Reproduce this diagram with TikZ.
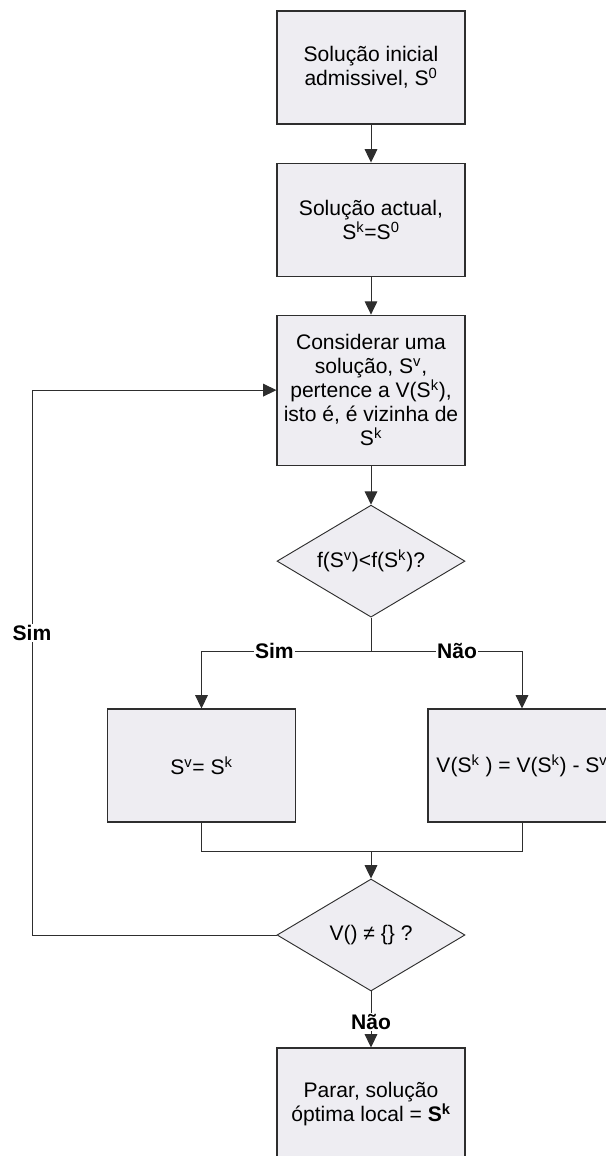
\documentclass[tikz,border=0pt]{standalone}
\usepackage{fontspec}
\setmainfont{Liberation Sans}
\usepackage{tikz}
\usetikzlibrary{arrows.meta,positioning,shapes.geometric}
\definecolor{boxfill}{HTML}{EEEDF2}
\definecolor{edge}{HTML}{2E2E2E}

\begin{document}
\begin{tikzpicture}[x=0.75pt,y=-0.75pt,
  font=\fontsize{15.8}{18}\selectfont,
  procbox/.style={draw=edge,fill=boxfill,line width=0.8pt,
    minimum width=141pt,minimum height=84.75pt,align=center,inner sep=2pt},
  decision/.style={diamond,draw=edge,fill=boxfill,line width=0.7pt,
    minimum width=141pt,minimum height=84pt,aspect=1.68,inner sep=0pt},
  conn/.style={draw=edge,line width=0.75pt},
  arr/.style={conn,-{Triangle[length=10pt,width=9.5pt]}},
  lbl/.style={fill=white,inner sep=1pt,
    font=\fontsize{15.8}{18}\selectfont\bfseries}]
  \clip (0,0) rectangle (606,1156);

  % main column
  \node[procbox] (start) at (371,67.5) {Solução inicial\\admissivel, S\textsuperscript{0}};
  \node[procbox,below=28.5pt of start] (current) {Solução actual,\\S\textsuperscript{k}=S\textsuperscript{0}};
  \node[procbox,below=28.5pt of current,minimum height=112.5pt] (consider)
    {Considerar uma\\solução, S\textsuperscript{v},\\pertence a V(S\textsuperscript{k}),\\isto é, é vizinha de\\S\textsuperscript{k}};
  \node[decision,below=29.25pt of consider] (test1) {f(S\textsuperscript{v})<f(S\textsuperscript{k})?};

  % branches
  \node[procbox] (accept) at (201.5,765.5) {S\textsuperscript{v}= S\textsuperscript{k}};
  \node[procbox] (reject) at (522,765.5) {V(S\textsuperscript{k} ) = V(S\textsuperscript{k}) - S\textsuperscript{v}};

  \node[decision] (test2) at (371,935) {V() ≠ \{\} ?};
  \node[procbox] (stop) at (371,1104.5) {Parar, solução\\óptima local = \textbf{S\textsuperscript{k}}};

  \coordinate (split) at (371,651);
  \coordinate (join) at (371,851);
  \coordinate (loop) at (32,935);

  % connectors
  \draw[arr] (start) -- (current);
  \draw[arr] (current) -- (consider);
  \draw[arr] (consider) -- (test1);
  \draw[conn] (test1.south) -- (split);
  \draw[arr] (split) -| node[lbl,pos=0.285]{Sim} (accept.north);
  \draw[arr] (split) -| node[lbl,pos=0.285]{Não} (reject.north);
  \draw[conn] (accept.south) |- (join) -| (reject.south);
  \draw[arr] (join) -- (test2.north);
  \draw[arr] (test2.west) -- (loop) |- node[lbl,pos=0.277]{Sim} (consider.west);
  \draw[arr] (test2.south) -- node[lbl,pos=0.55]{Não} (stop.north);
\end{tikzpicture}
\end{document}
